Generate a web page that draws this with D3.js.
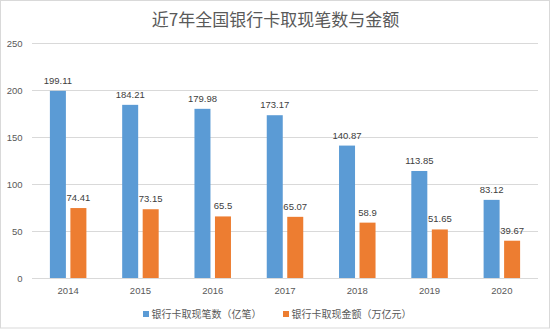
<!DOCTYPE html>
<html><head><meta charset="utf-8">
<script src="https://cdn.jsdelivr.net/npm/d3@7"></script>
<style>body{margin:0;background:#fff}svg{display:block}</style>
</head><body>
<script>
const title = "近7年全国银行卡取现笔数与金额";
const years = ["2014","2015","2016","2017","2018","2019","2020"];
const countSeries = [199.11,184.21,179.98,173.17,140.87,113.85,83.12];
const amountSeries = [74.41,73.15,65.5,65.07,58.9,51.65,39.67];
const countLabels = ["199.11","184.21","179.98","173.17","140.87","113.85","83.12"];
const amountLabels = ["74.41","73.15","65.5","65.07","58.9","51.65","39.67"];
const seriesNames = ["银行卡取现笔数（亿笔）","银行卡取现金额（万亿元）"];
const yTicks = [0,50,100,150,200,250];

(function(){
const W=550,H=330;
const svg=d3.select("body").append("svg").attr("width",W).attr("height",H);
svg.append("rect").attr("x",0.5).attr("y",0.5).attr("width",W-1).attr("height",H-2.5)
  .attr("fill","#fff").attr("stroke","#d9d9d9");

const pl=32,pr=538,pt=43,pb=278;
const x=d3.scaleBand().domain(years).range([pl,pr]);
const y=d3.scaleLinear().domain([0,250]).range([pb,pt]);
const bw=16, gap=4.5;
const font="'Liberation Sans', Arial, sans-serif";
const fs=9.5;
const cjk="'Noto Sans CJK SC', sans-serif";

svg.append("text").attr("x",275.5).attr("y",26).attr("text-anchor","middle")
  .attr("font-family",cjk).attr("font-size",17).attr("fill","#595959").text(title);

const g=svg.append("g");
g.selectAll("line.grid").data(yTicks).join("line").attr("class","grid")
  .attr("x1",pl).attr("x2",pr).attr("y1",d=>Math.round(y(d))+0.5).attr("y2",d=>Math.round(y(d))+0.5)
  .attr("stroke","#d9d9d9").attr("stroke-width",1);
g.selectAll("text.yt").data(yTicks).join("text").attr("class","yt")
  .attr("x",22.5).attr("y",d=>y(d)+3.5).attr("text-anchor","end")
  .attr("font-family",font).attr("font-size",fs).attr("fill","#595959").text(d=>d);

const cx=d=>x(d)+x.bandwidth()/2;
g.selectAll("rect.c").data(years).join("rect").attr("class","c")
  .attr("x",d=>cx(d)-gap/2-bw).attr("width",bw)
  .attr("y",(d,i)=>y(countSeries[i])).attr("height",(d,i)=>pb-y(countSeries[i]))
  .attr("fill","#5B9BD5");
g.selectAll("rect.a").data(years).join("rect").attr("class","a")
  .attr("x",d=>cx(d)+gap/2).attr("width",bw)
  .attr("y",(d,i)=>y(amountSeries[i])).attr("height",(d,i)=>pb-y(amountSeries[i]))
  .attr("fill","#ED7D31");

g.selectAll("text.cl").data(years).join("text").attr("class","cl")
  .attr("x",d=>cx(d)-gap/2-bw/2).attr("y",(d,i)=>y(countSeries[i])-7).attr("text-anchor","middle")
  .attr("font-family",font).attr("font-size",fs).attr("fill","#404040").text((d,i)=>countLabels[i]);
g.selectAll("text.al").data(years).join("text").attr("class","al")
  .attr("x",d=>cx(d)+gap/2+bw/2).attr("y",(d,i)=>y(amountSeries[i])-7).attr("text-anchor","middle")
  .attr("font-family",font).attr("font-size",fs).attr("fill","#404040").text((d,i)=>amountLabels[i]);

g.selectAll("text.xt").data(years).join("text").attr("class","xt")
  .attr("x",d=>cx(d)).attr("y",293.5).attr("text-anchor","middle")
  .attr("font-family",font).attr("font-size",fs).attr("fill","#595959").text(d=>d);

const colors=["#5B9BD5","#ED7D31"];
const legX=[143,283];
seriesNames.forEach((n,i)=>{
  svg.append("rect").attr("x",legX[i]).attr("y",311).attr("width",6).attr("height",6).attr("fill",colors[i]);
  svg.append("text").attr("x",legX[i]+8.5).attr("y",317.5).attr("font-family",cjk).attr("font-size",10)
    .attr("fill","#595959").text(n);
});
})();
</script>
</body></html>
